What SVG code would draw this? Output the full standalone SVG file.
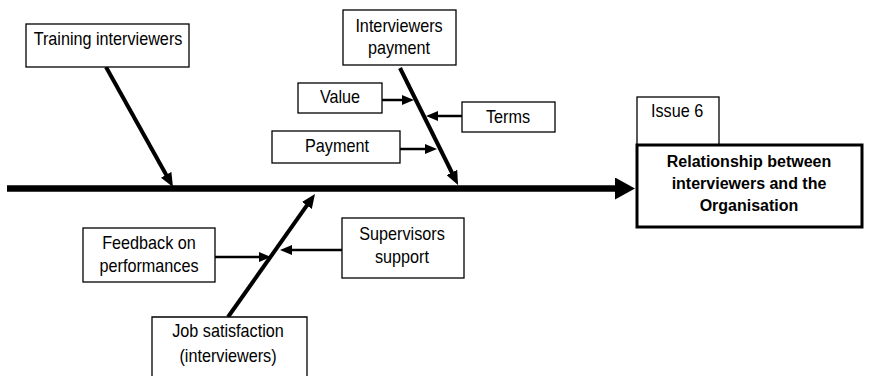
<svg xmlns="http://www.w3.org/2000/svg" width="869" height="376" viewBox="0 0 869 376">
<defs>
<style>
.box{fill:#fff;stroke:#000;stroke-width:1.3}
.main{fill:#fff;stroke:#000;stroke-width:3}
text{font-family:"Liberation Sans",Arial,sans-serif;font-size:18px;fill:#000;text-anchor:middle}
.b{font-weight:bold;font-size:16px}
.spine{stroke:#000;stroke-width:6.5;fill:none}
.bone{stroke:#000;stroke-width:4;fill:none;marker-end:url(#hb)}
.twig{stroke:#000;stroke-width:2.5;fill:none;marker-end:url(#hs)}
</style>
<marker id="hb" markerUnits="userSpaceOnUse" markerWidth="14" markerHeight="12" refX="4" refY="6" orient="auto"><path d="M0,0 L14,6 L0,12 z" fill="#000"/></marker>
<marker id="hs" markerUnits="userSpaceOnUse" markerWidth="12" markerHeight="10" refX="3" refY="5" orient="auto"><path d="M0,0 L12,5 L0,10 z" fill="#000"/></marker>
<marker id="hm" markerUnits="userSpaceOnUse" markerWidth="20" markerHeight="22" refX="2" refY="11" orient="auto"><path d="M0,0 L20,11 L0,22 z" fill="#000"/></marker>
</defs>
<g id="connectors">
<line class="spine" x1="7" y1="188.5" x2="617" y2="188.5" marker-end="url(#hm)"/>
<line class="bone" x1="106" y1="67" x2="168.1" y2="178.3"/>
<line class="bone" x1="400" y1="68" x2="453.6" y2="176"/>
<line class="bone" x1="228" y1="317" x2="309.2" y2="202.2"/>
<line class="twig" x1="382" y1="100" x2="405" y2="100"/>
<line class="twig" x1="462" y1="116" x2="435" y2="116"/>
<line class="twig" x1="400" y1="149" x2="428" y2="149"/>
<line class="twig" x1="215" y1="257" x2="262" y2="257"/>
<line class="twig" x1="342" y1="250" x2="289" y2="250"/>
</g>
<g id="training"><rect class="box" x="26" y="24" width="163" height="43"/><text transform="translate(108 45) scale(0.9 1)">Training interviewers</text></g>
<g id="interviewers-payment"><rect class="box" x="343" y="10" width="113" height="55"/><text transform="translate(399 32) scale(0.9 1)">Interviewers</text><text transform="translate(399 54) scale(0.9 1)">payment</text></g>
<g id="value"><rect class="box" x="298" y="83" width="84" height="30"/><text transform="translate(340 103) scale(0.9 1)">Value</text></g>
<g id="terms"><rect class="box" x="462" y="102" width="93" height="30"/><text transform="translate(508 123) scale(0.9 1)">Terms</text></g>
<g id="payment"><rect class="box" x="272" y="131" width="128" height="32"/><text transform="translate(337 152) scale(0.9 1)">Payment</text></g>
<g id="issue"><rect class="box" x="637" y="97" width="82" height="48"/><text transform="translate(651 117) scale(0.9 1)" style="text-anchor:start">Issue 6</text></g>
<g id="effect"><rect class="main" x="637" y="145" width="225" height="82"/><text class="b" x="749" y="167">Relationship between</text><text class="b" x="749" y="189">interviewers and the</text><text class="b" x="749" y="211">Organisation</text></g>
<g id="feedback"><rect class="box" x="83" y="228" width="132" height="54"/><text transform="translate(149 249) scale(0.9 1)">Feedback on</text><text transform="translate(149 272) scale(0.9 1)">performances</text></g>
<g id="supervisors"><rect class="box" x="342" y="218" width="122" height="60"/><text transform="translate(402 240) scale(0.9 1)">Supervisors</text><text transform="translate(402 263) scale(0.9 1)">support</text></g>
<g id="job"><path class="box" d="M152,378 V317 H307 V378"/><text transform="translate(228 337) scale(0.9 1)">Job satisfaction</text><text transform="translate(228 362) scale(0.9 1)">(interviewers)</text></g>
</svg>
